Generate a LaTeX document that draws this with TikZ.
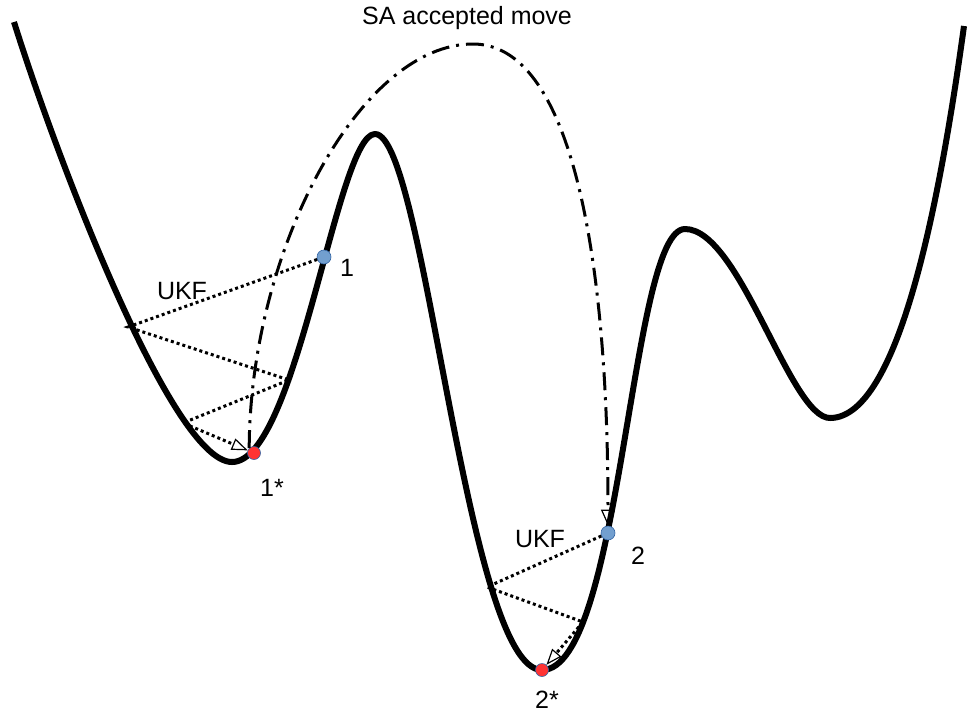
\documentclass[tikz,border=0pt]{standalone}
\usepackage{fontspec}
\setmainfont{Liberation Sans}
\usetikzlibrary{arrows.meta}
\definecolor{dotblue}{HTML}{729FCF}
\definecolor{dotedge}{HTML}{3465A4}
\definecolor{dotred}{HTML}{FF3333}
\tikzset{
  landscape/.style={line width=6pt, line join=round, line cap=butt},
  ukfpath/.style={line width=3pt, dash pattern=on 3pt off 3pt,
    -{Triangle[open, length=16pt, width=12pt, line width=1.2pt]}},
  samove/.style={line width=3pt, dash pattern=on 18pt off 7pt on 3pt off 7pt,
    -{Triangle[open, length=16pt, width=14pt, line width=1.2pt]}},
  bluedot/.style={circle, fill=dotblue, draw=dotedge, line width=0.6pt, minimum size=14pt, inner sep=0pt},
  reddot/.style={circle, fill=dotred, draw=dotedge, line width=0.6pt, minimum size=13pt, inner sep=0pt},
  lbl/.style={font=\fontsize{25}{29}\selectfont, inner sep=0pt},
}
\begin{document}
\begin{tikzpicture}[x=1pt, y=-1pt]
\useasboundingbox (0,0) rectangle (969,716);
% energy landscape
\draw[landscape] (14,22)
  .. controls (56,156) and (172,462) .. (232,462)
  .. controls (297,462) and (337,134) .. (375,134)
  .. controls (425,134) and (466,670) .. (542,670)
  .. controls (622,670) and (630,229) .. (685,229)
  .. controls (740,229) and (790,418) .. (830,418)
  .. controls (899,418) and (940,200) .. (964,26);
% points
\node[bluedot] (p1) at (324,257) {};
\node[reddot] (s1) at (254,453) {};
\node[bluedot] (p2) at (608,533) {};
\node[reddot] (s2) at (542,670) {};
% UKF bounce coordinates
\coordinate (a1) at (128,327);
\coordinate (a2) at (289,380);
\coordinate (a3) at (183,423);
\coordinate (b1) at (487,587);
\coordinate (b2) at (583,622);
% UKF paths
\draw[ukfpath] (p1) -- (a1) -- (a2) -- (a3) -- (s1);
\draw[ukfpath] (p2) -- (b1) -- (b2) -- (s2);
% SA move
\coordinate (top) at (473,44);
\draw[samove] (s1.north west) .. controls (250,250) and (360,44) .. (top)
  .. controls (570,44) and (608,250) .. (p2.north);
% labels
\node[lbl] (t) at (467,18) {SA accepted move};
\node[lbl] (u1) at (182,291) {UKF};
\node[lbl] (u2) at (540,539) {UKF};
\node[lbl] (l1) at (347,268) {1};
\node[lbl] (l1s) at (272,488) {1*};
\node[lbl] (l2) at (638,556) {2};
\node[lbl] (l2s) at (547,700) {2*};
\end{tikzpicture}
\end{document}
